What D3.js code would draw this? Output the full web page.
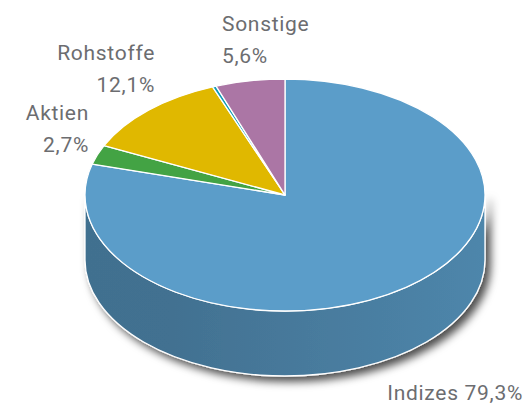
<!DOCTYPE html>
<html>
<head>
<meta charset="utf-8">
<script src="https://cdn.jsdelivr.net/npm/d3@7"></script>
<style>
html, body { margin: 0; background: #fff; overflow: hidden; }
text { font-family: Roboto, sans-serif; font-size: 21px; font-weight: 400; letter-spacing: .7px; fill: #6c6d70; }
</style>
</head>
<body>
<script>
const categories = ['Indizes', 'Aktien', 'Rohstoffe', 'Anleihen', 'Sonstige']
const shares = [79.3, 2.7, 12.1, 0.3, 5.6]
const shareLabels = ['79,3%', '2,7%', '12,1%', '', '5,6%']
const sliceColors = ['#5b9dc9', '#43a344', '#e0b800', '#0f9bb5', '#ab76a5']

const width = 526
const height = 404
const cx = 285
const cy = 195
const rx = 200
const ry = 116
const depth = 65

const pie = d3.pie().sort(null).value(d => d)
const slices = pie(shares)

// angle runs clockwise from the top, same as d3.arc
function px(a) { return cx + rx * Math.sin(a) }
function py(a) { return cy - ry * Math.cos(a) }

function topPath(d) {
    const large = d.endAngle - d.startAngle > Math.PI ? 1 : 0
    return `M${cx},${cy}L${px(d.startAngle)},${py(d.startAngle)}` +
        `A${rx},${ry} 0 ${large} 1 ${px(d.endAngle)},${py(d.endAngle)}Z`
}

function wallPath(a0, a1) {
    return `M${px(a0)},${py(a0)}A${rx},${ry} 0 0 1 ${px(a1)},${py(a1)}` +
        `L${px(a1)},${py(a1) + depth}A${rx},${ry} 0 0 0 ${px(a0)},${py(a0) + depth}Z`
}

const svg = d3.select('body').append('svg')
    .attr('width', width)
    .attr('height', height)

const defs = svg.append('defs')
const shadow = defs.append('filter')
    .attr('id', 'shadow')
    .attr('x', '-10%').attr('y', '-10%')
    .attr('width', '120%').attr('height', '130%')
shadow.append('feDropShadow')
    .attr('dx', 5).attr('dy', 5)
    .attr('stdDeviation', 4)
    .attr('flood-color', '#000')
    .attr('flood-opacity', .7)

// wall only shows on the front half of the ellipse
const frontSlices = slices
    .map((d, i) => ({
        i,
        a0: Math.max(d.startAngle, Math.PI / 2),
        a1: Math.min(d.endAngle, 3 * Math.PI / 2)
    }))
    .filter(d => d.a1 > d.a0)

frontSlices.forEach(d => {
    const base = d3.color(sliceColors[d.i])
    const grad = defs.append('linearGradient')
        .attr('id', 'wall' + d.i)
        .attr('x1', 0).attr('x2', 1).attr('y1', 0).attr('y2', 0)
    grad.append('stop').attr('offset', '0%').attr('stop-color', base.darker(.95))
    grad.append('stop').attr('offset', '22%').attr('stop-color', base.darker(.92))
    grad.append('stop').attr('offset', '100%').attr('stop-color', base.darker(.45))
})

svg.append('g')
    .attr('filter', 'url(#shadow)')
    .selectAll('path')
    .data(frontSlices)
    .join('path')
    .attr('d', d => wallPath(d.a0, d.a1))
    .attr('fill', d => `url(#wall${d.i})`)
    .attr('stroke', '#fff')
    .attr('stroke-width', 1.3)
    .attr('stroke-linejoin', 'round')

svg.append('g')
    .selectAll('path')
    .data(slices)
    .join('path')
    .attr('d', topPath)
    .attr('fill', (d, i) => sliceColors[i])
    .attr('stroke', '#fff')
    .attr('stroke-width', 1.3)
    .attr('stroke-linejoin', 'round')

function label(x, y, anchor, lines) {
    const t = svg.append('text').attr('text-anchor', anchor)
    lines.forEach((s, k) => t.append('tspan').attr('x', x).attr('y', y + k * 32).text(s))
}

label(222, 31, 'start', [categories[4], shareLabels[4]])
label(155, 60, 'end', [categories[2], shareLabels[2]])
label(89, 120, 'end', [categories[1], shareLabels[1]])
label(523, 400, 'end', [categories[0] + ' ' + shareLabels[0]])
</script>
</body>
</html>
